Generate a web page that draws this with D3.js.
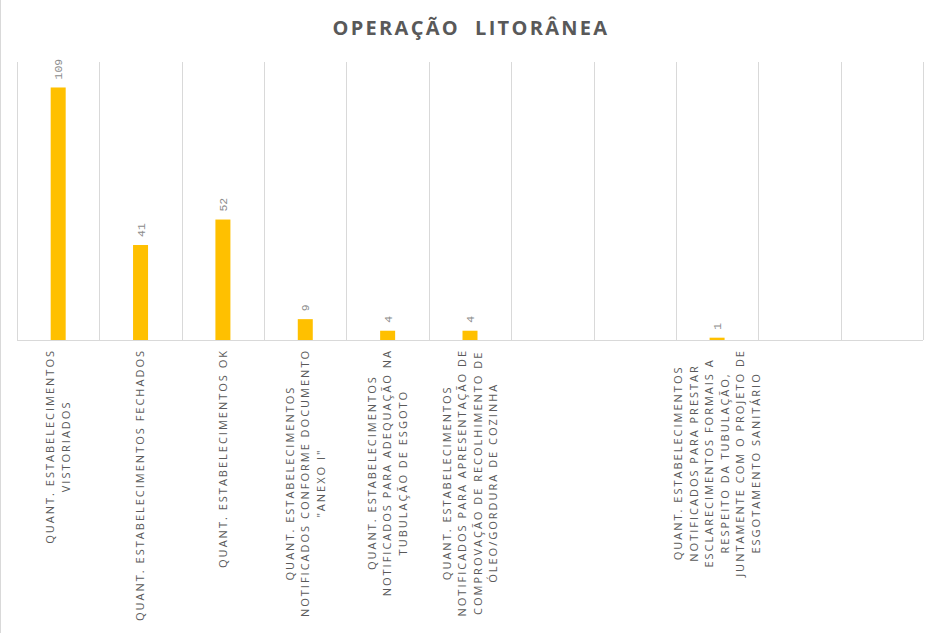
<!DOCTYPE html>
<html>
<head>
<meta charset="utf-8">
<script src="https://cdn.jsdelivr.net/npm/d3@7"></script>
<style>
  body { margin: 0; background: #fff; }
  text { font-family: "Open Sans", sans-serif; }
</style>
</head>
<body>
<div id="graph"></div>
<script>
// Données
let titre = "OPERAÇÃO  LITORÂNEA";

let categories = [
  ["QUANT. ESTABELECIMENTOS", "VISTORIADOS"],
  ["QUANT. ESTABELECIMENTOS FECHADOS"],
  ["QUANT. ESTABELECIMENTOS OK"],
  ["QUANT. ESTABELECIMENTOS", "NOTIFICADOS CONFORME DOCUMENTO", "\"ANEXO I\""],
  ["QUANT. ESTABELECIMENTOS", "NOTIFICADOS PARA ADEQUAÇÃO NA", "TUBULAÇÃO DE ESGOTO"],
  ["QUANT. ESTABELECIMENTOS", "NOTIFICADOS PARA APRESENTAÇÃO DE", "COMPROVAÇÃO DE RECOLHIMENTO DE", "ÓLEO/GORDURA DE COZINHA"],
  [],
  [],
  ["QUANT. ESTABELECIMENTOS", "NOTIFICADOS PARA PRESTAR", "ESCLARECIMENTOS FORMAIS A", "RESPEITO DA TUBULAÇÃO,", "JUNTAMENTE COM O PROJETO DE", "ESGOTAMENTO SANITÁRIO"],
  [],
  []
];

let valeurs = [109, 41, 52, 9, 4, 4, null, null, 1, null, null];

let yMax = 120;

// Taille du graphique
let largeurTotale = 940,
    hauteurTotale = 633,
    gauche = 17,
    droite = 923,
    haut = 62,
    bas = 340;

let indices = categories.map((d, i) => i);

let echelleX = d3.scaleBand()
    .domain(indices)
    .range([gauche, droite])
    .padding(0);

let echelleY = d3.scaleLinear()
    .domain([0, yMax])
    .range([bas, haut]);

let svg = d3.select("#graph").append("svg")
    .attr("width", largeurTotale)
    .attr("height", hauteurTotale);

// bordure gauche
svg.append("line")
    .attr("x1", 0.5).attr("x2", 0.5)
    .attr("y1", 0).attr("y2", hauteurTotale)
    .attr("stroke", "#d9d9d9");

// Titre
svg.append("text")
    .attr("x", 471)
    .attr("y", 35)
    .attr("text-anchor", "middle")
    .style("font-size", "20px")
    .style("font-weight", "bold")
    .style("letter-spacing", "2.3px")
    .style("fill", "#595959")
    .style("white-space", "pre")
    .text(titre);

// Lignes verticales de la grille
let bords = indices.map(i => echelleX(i)).concat([droite]);
svg.append("g").selectAll("line")
    .data(bords)
    .enter()
    .append("line")
    .attr("x1", d => Math.round(d) + 0.5)
    .attr("x2", d => Math.round(d) + 0.5)
    .attr("y1", echelleY(yMax))
    .attr("y2", echelleY(0))
    .attr("stroke", "#d9d9d9");

// Axe X (ligne de base)
svg.append("line")
    .attr("x1", gauche)
    .attr("x2", droite)
    .attr("y1", echelleY(0) + 0.5)
    .attr("y2", echelleY(0) + 0.5)
    .attr("stroke", "#d9d9d9");

// Barres
let largeurBarre = 15;
let donnees = valeurs.map((v, i) => ({ i: i, v: v })).filter(d => d.v !== null);

svg.append("g").selectAll(".bar")
    .data(donnees)
    .enter()
    .append("rect")
    .attr("class", "bar")
    .attr("x", d => echelleX(d.i) + echelleX.bandwidth() / 2 - largeurBarre / 2)
    .attr("width", largeurBarre)
    .attr("y", d => echelleY(d.v))
    .attr("height", d => echelleY(0) - echelleY(d.v))
    .style("fill", "#ffc000");

// Étiquettes de valeurs
svg.append("g").selectAll(".val")
    .data(donnees)
    .enter()
    .append("text")
    .attr("class", "val")
    .attr("transform", d => "translate(" + (echelleX(d.i) + echelleX.bandwidth() / 2 + 4) + "," + (echelleY(d.v) - 8) + ") rotate(-90)")
    .attr("text-anchor", "start")
    .style("font-family", "'Liberation Mono', monospace")
    .style("font-size", "11.5px")
    .style("fill", "#8c8c8c")
    .text(d => d.v);

// Étiquettes de catégories (tournées)
let hauteurLigne = 15.5;
let groupes = svg.append("g").selectAll(".cat")
    .data(categories.map((l, i) => ({ i: i, lignes: l })))
    .enter()
    .append("g")
    .attr("class", "cat")
    .attr("transform", d => "translate(" + (echelleX(d.i) + echelleX.bandwidth() / 2) + "," + (echelleY(0) + 9) + ") rotate(-90)");

groupes.each(function(d) {
  let g = d3.select(this);
  let n = d.lignes.length;
  let textes = g.selectAll("text")
    .data(d.lignes)
    .enter()
    .append("text")
    .attr("y", (l, k) => (k - (n - 1) / 2) * hauteurLigne)
    .attr("dy", "0.35em")
    .attr("text-anchor", "middle")
    .style("font-size", "11px")
    .style("letter-spacing", "2px")
    .style("fill", "#595959")
    .text(l => l);
  let maxL = 0;
  textes.each(function() { maxL = Math.max(maxL, this.getComputedTextLength()); });
  textes.attr("x", -maxL / 2);
});
</script>
</body>
</html>
